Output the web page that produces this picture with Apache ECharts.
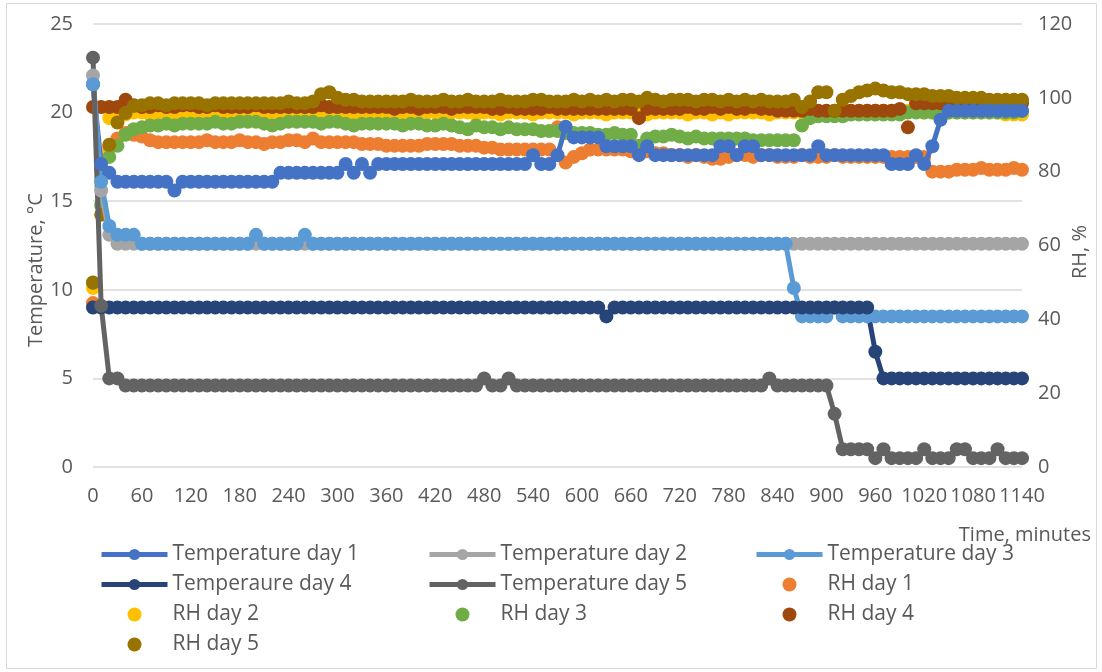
<!DOCTYPE html>
<html>
<head>
<meta charset="utf-8">
<script src="https://cdn.jsdelivr.net/npm/echarts@6/dist/echarts.min.js"></script>
<style>
  html, body { margin: 0; padding: 0; background: #fff; }
  #chart { width: 1102px; height: 672px; }
</style>
</head>
<body>
<div id="chart"></div>
<script>
// Sampling instants, minutes (every 10 min)
const minutes = [
  0, 10, 20, 30, 40, 50, 60, 70, 80, 90, 100, 110,
  120, 130, 140, 150, 160, 170, 180, 190, 200, 210, 220, 230,
  240, 250, 260, 270, 280, 290, 300, 310, 320, 330, 340, 350,
  360, 370, 380, 390, 400, 410, 420, 430, 440, 450, 460, 470,
  480, 490, 500, 510, 520, 530, 540, 550, 560, 570, 580, 590,
  600, 610, 620, 630, 640, 650, 660, 670, 680, 690, 700, 710,
  720, 730, 740, 750, 760, 770, 780, 790, 800, 810, 820, 830,
  840, 850, 860, 870, 880, 890, 900, 910, 920, 930, 940, 950,
  960, 970, 980, 990, 1000, 1010, 1020, 1030, 1040, 1050, 1060, 1070,
  1080, 1090, 1100, 1110, 1120, 1130, 1140
];

// Temperature, °C (left axis)
const tempDay1 = [
  21.6, 17.1, 16.6, 16.1, 16.1, 16.1,
  16.1, 16.1, 16.1, 16.1, 15.6, 16.1,
  16.1, 16.1, 16.1, 16.1, 16.1, 16.1,
  16.1, 16.1, 16.1, 16.1, 16.1, 16.6,
  16.6, 16.6, 16.6, 16.6, 16.6, 16.6,
  16.6, 17.1, 16.6, 17.1, 16.6, 17.1,
  17.1, 17.1, 17.1, 17.1, 17.1, 17.1,
  17.1, 17.1, 17.1, 17.1, 17.1, 17.1,
  17.1, 17.1, 17.1, 17.1, 17.1, 17.1,
  17.6, 17.1, 17.1, 17.6, 19.2, 18.6,
  18.6, 18.6, 18.6, 18.1, 18.1, 18.1,
  18.1, 17.6, 18.1, 17.6, 17.6, 17.6,
  17.6, 17.6, 17.6, 17.6, 17.6, 18.1,
  18.1, 17.6, 18.1, 18.1, 17.6, 17.6,
  17.6, 17.6, 17.6, 17.6, 17.6, 18.1,
  17.6, 17.6, 17.6, 17.6, 17.6, 17.6,
  17.6, 17.6, 17.1, 17.1, 17.1, 17.6,
  17.1, 18.1, 19.6, 20.1, 20.1, 20.1,
  20.1, 20.1, 20.1, 20.1, 20.1, 20.1,
  20.1
];
const tempDay2 = [
  22.1, 15.6, 13.1, 12.6, 12.6, 12.6,
  12.6, 12.6, 12.6, 12.6, 12.6, 12.6,
  12.6, 12.6, 12.6, 12.6, 12.6, 12.6,
  12.6, 12.6, 12.6, 12.6, 12.6, 12.6,
  12.6, 12.6, 12.6, 12.6, 12.6, 12.6,
  12.6, 12.6, 12.6, 12.6, 12.6, 12.6,
  12.6, 12.6, 12.6, 12.6, 12.6, 12.6,
  12.6, 12.6, 12.6, 12.6, 12.6, 12.6,
  12.6, 12.6, 12.6, 12.6, 12.6, 12.6,
  12.6, 12.6, 12.6, 12.6, 12.6, 12.6,
  12.6, 12.6, 12.6, 12.6, 12.6, 12.6,
  12.6, 12.6, 12.6, 12.6, 12.6, 12.6,
  12.6, 12.6, 12.6, 12.6, 12.6, 12.6,
  12.6, 12.6, 12.6, 12.6, 12.6, 12.6,
  12.6, 12.6, 12.6, 12.6, 12.6, 12.6,
  12.6, 12.6, 12.6, 12.6, 12.6, 12.6,
  12.6, 12.6, 12.6, 12.6, 12.6, 12.6,
  12.6, 12.6, 12.6, 12.6, 12.6, 12.6,
  12.6, 12.6, 12.6, 12.6, 12.6, 12.6,
  12.6
];
const tempDay3 = [
  21.6, 16.1, 13.6, 13.1, 13.1, 13.1,
  12.6, 12.6, 12.6, 12.6, 12.6, 12.6,
  12.6, 12.6, 12.6, 12.6, 12.6, 12.6,
  12.6, 12.6, 13.1, 12.6, 12.6, 12.6,
  12.6, 12.6, 13.1, 12.6, 12.6, 12.6,
  12.6, 12.6, 12.6, 12.6, 12.6, 12.6,
  12.6, 12.6, 12.6, 12.6, 12.6, 12.6,
  12.6, 12.6, 12.6, 12.6, 12.6, 12.6,
  12.6, 12.6, 12.6, 12.6, 12.6, 12.6,
  12.6, 12.6, 12.6, 12.6, 12.6, 12.6,
  12.6, 12.6, 12.6, 12.6, 12.6, 12.6,
  12.6, 12.6, 12.6, 12.6, 12.6, 12.6,
  12.6, 12.6, 12.6, 12.6, 12.6, 12.6,
  12.6, 12.6, 12.6, 12.6, 12.6, 12.6,
  12.6, 12.6, 10.1, 8.5, 8.5, 8.5,
  8.5, 9.0, 8.5, 8.5, 8.5, 8.5,
  8.5, 8.5, 8.5, 8.5, 8.5, 8.5,
  8.5, 8.5, 8.5, 8.5, 8.5, 8.5,
  8.5, 8.5, 8.5, 8.5, 8.5, 8.5,
  8.5
];
const tempDay4 = [
  9.0, 9.0, 9.0, 9.0, 9.0, 9.0,
  9.0, 9.0, 9.0, 9.0, 9.0, 9.0,
  9.0, 9.0, 9.0, 9.0, 9.0, 9.0,
  9.0, 9.0, 9.0, 9.0, 9.0, 9.0,
  9.0, 9.0, 9.0, 9.0, 9.0, 9.0,
  9.0, 9.0, 9.0, 9.0, 9.0, 9.0,
  9.0, 9.0, 9.0, 9.0, 9.0, 9.0,
  9.0, 9.0, 9.0, 9.0, 9.0, 9.0,
  9.0, 9.0, 9.0, 9.0, 9.0, 9.0,
  9.0, 9.0, 9.0, 9.0, 9.0, 9.0,
  9.0, 9.0, 9.0, 8.5, 9.0, 9.0,
  9.0, 9.0, 9.0, 9.0, 9.0, 9.0,
  9.0, 9.0, 9.0, 9.0, 9.0, 9.0,
  9.0, 9.0, 9.0, 9.0, 9.0, 9.0,
  9.0, 9.0, 9.0, 9.0, 9.0, 9.0,
  9.0, 9.0, 9.0, 9.0, 9.0, 9.0,
  6.5, 5.0, 5.0, 5.0, 5.0, 5.0,
  5.0, 5.0, 5.0, 5.0, 5.0, 5.0,
  5.0, 5.0, 5.0, 5.0, 5.0, 5.0,
  5.0
];
const tempDay5 = [
  23.1, 9.1, 5.0, 5.0, 4.6, 4.6,
  4.6, 4.6, 4.6, 4.6, 4.6, 4.6,
  4.6, 4.6, 4.6, 4.6, 4.6, 4.6,
  4.6, 4.6, 4.6, 4.6, 4.6, 4.6,
  4.6, 4.6, 4.6, 4.6, 4.6, 4.6,
  4.6, 4.6, 4.6, 4.6, 4.6, 4.6,
  4.6, 4.6, 4.6, 4.6, 4.6, 4.6,
  4.6, 4.6, 4.6, 4.6, 4.6, 4.6,
  5.0, 4.6, 4.6, 5.0, 4.6, 4.6,
  4.6, 4.6, 4.6, 4.6, 4.6, 4.6,
  4.6, 4.6, 4.6, 4.6, 4.6, 4.6,
  4.6, 4.6, 4.6, 4.6, 4.6, 4.6,
  4.6, 4.6, 4.6, 4.6, 4.6, 4.6,
  4.6, 4.6, 4.6, 4.6, 4.6, 5.0,
  4.6, 4.6, 4.6, 4.6, 4.6, 4.6,
  4.6, 3.0, 1.0, 1.0, 1.0, 1.0,
  0.5, 1.0, 0.5, 0.5, 0.5, 0.5,
  1.0, 0.5, 0.5, 0.5, 1.0, 1.0,
  0.5, 0.5, 0.5, 1.0, 0.5, 0.5,
  0.5
];

// Relative humidity, % (right axis)
const rhDay1 = [
  44.4, 80.5, 86.5, 89.0, 90.5, 90.0,
  89.5, 88.5, 88.0, 88.0, 88.0, 88.0,
  88.0, 88.0, 88.5, 88.0, 88.0, 88.0,
  88.5, 88.0, 88.0, 87.5, 88.0, 88.0,
  88.5, 88.5, 88.0, 89.0, 88.0, 88.0,
  88.0, 88.0, 88.0, 87.5, 87.5, 87.5,
  87.0, 87.0, 87.0, 87.0, 87.0, 87.5,
  87.5, 87.5, 87.5, 87.0, 87.0, 87.0,
  86.5, 86.5, 86.0, 86.0, 86.0, 86.0,
  86.0, 86.0, 86.0, 92.0, 82.5, 84.0,
  85.0, 86.0, 86.0, 86.0, 86.0, 86.0,
  85.5, 85.5, 85.5, 85.0, 85.0, 84.5,
  84.5, 84.0, 84.5, 84.0, 83.5, 83.5,
  84.0, 84.5, 84.5, 84.0, 84.5, 84.5,
  84.0, 84.0, 84.0, 84.5, 84.0, 84.0,
  84.0, 84.5, 84.0, 84.0, 84.0, 84.0,
  84.0, 84.0, 84.0, 84.0, 84.0, 84.0,
  84.0, 80.0, 80.0, 80.0, 80.5, 80.5,
  80.5, 81.0, 80.5, 80.5, 80.5, 81.0,
  80.5
];
const rhDay2 = [
  48.5, 84.0, 94.5, 95.5, 95.5, 96.0,
  96.0, 95.5, 96.0, 96.0, 95.5, 96.0,
  96.0, 96.0, 95.5, 96.0, 96.0, 96.0,
  96.0, 95.5, 96.0, 96.0, 96.0, 95.5,
  96.0, 96.0, 96.0, 95.5, 96.0, 96.0,
  96.0, 96.0, 95.5, 95.5, 96.0, 96.0,
  95.5, 96.0, 96.0, 95.5, 96.0, 96.0,
  96.0, 95.5, 96.0, 96.0, 96.0, 95.5,
  96.0, 96.0, 95.5, 96.0, 96.0, 96.0,
  95.5, 96.0, 96.0, 96.0, 96.0, 95.5,
  96.0, 96.0, 96.0, 95.5, 96.0, 96.0,
  96.0, 96.0, 95.5, 96.0, 96.0, 96.0,
  96.0, 95.5, 96.0, 96.0, 95.5, 96.0,
  95.5, 96.0, 96.0, 96.0, 96.0, 95.5,
  96.0, 96.0, 96.0, 96.0, 96.0, 96.0,
  96.0, 96.0, 96.0, 96.5, 96.5, 96.5,
  96.5, 96.5, 96.5, 96.5, 96.5, 96.5,
  96.0, 96.0, 96.0, 96.0, 96.0, 96.0,
  96.0, 96.0, 96.0, 96.0, 95.5, 95.5,
  95.5
];
const rhDay3 = [
  50.0, 71.0, 84.0, 87.0, 90.0, 91.5,
  92.0, 92.5, 92.5, 93.0, 92.5, 93.0,
  93.0, 93.0, 93.0, 93.5, 93.0, 93.0,
  93.5, 93.5, 93.5, 93.0, 92.5, 93.0,
  93.5, 93.5, 93.5, 93.5, 93.0, 93.5,
  93.5, 93.0, 92.5, 93.0, 93.0, 93.0,
  93.0, 93.0, 92.5, 93.0, 93.0, 92.5,
  92.5, 93.0, 92.5, 92.0, 91.5, 92.5,
  92.0, 92.0, 91.5, 92.0, 91.5, 91.5,
  91.5, 91.0, 91.0, 91.0, 90.5, 90.5,
  90.5, 90.5, 90.0, 90.0, 90.5, 90.0,
  90.0, 87.0, 89.0, 89.5, 89.5, 90.0,
  89.5, 89.0, 89.5, 89.0, 89.0, 89.0,
  89.0, 89.0, 89.0, 88.5, 88.5, 88.5,
  88.5, 88.5, 88.5, 92.5, 94.5, 95.0,
  95.0, 95.0, 95.0, 95.5, 95.5, 95.5,
  95.5, 95.5, 95.5, 95.5, 96.0, 96.0,
  96.0, 96.0, 96.0, 96.0, 96.0, 96.0,
  96.0, 96.0, 96.0, 96.0, 96.0, 96.0,
  96.5
];
const rhDay4 = [
  97.5, 97.5, 97.5, 97.5, 99.5, 98.0,
  97.5, 97.5, 98.0, 97.5, 97.5, 98.0,
  98.0, 97.5, 97.5, 98.0, 97.5, 97.5,
  97.5, 97.5, 98.0, 97.5, 97.5, 97.5,
  97.5, 97.5, 97.5, 97.5, 98.0, 97.5,
  97.5, 97.5, 97.5, 97.5, 97.5, 97.5,
  97.5, 97.0, 97.5, 97.5, 97.0, 97.5,
  97.5, 97.5, 97.0, 97.5, 97.5, 97.5,
  97.5, 97.0, 97.0, 97.5, 97.0, 97.0,
  97.0, 97.0, 97.5, 97.0, 97.0, 97.0,
  97.0, 97.0, 97.0, 97.0, 97.0, 97.0,
  97.0, 94.5, 97.0, 97.0, 97.0, 97.0,
  97.0, 97.5, 97.0, 97.0, 97.5, 97.0,
  97.5, 97.0, 97.0, 97.5, 97.0, 97.0,
  96.5, 96.5, 96.5, 96.5, 97.0, 96.5,
  96.5, 96.5, 96.5, 96.5, 96.5, 96.5,
  96.5, 96.5, 96.5, 97.0, 92.0, 98.5,
  98.5, 98.5, 98.5, 98.5, 98.5, 98.5,
  98.5, 98.5, 98.5, 98.5, 98.5, 98.5,
  98.5
];
const rhDay5 = [
  49.9, 68.3, 87.3, 93.3, 95.9, 97.8,
  98.0, 98.5, 98.5, 98.0, 98.5, 98.5,
  98.5, 98.5, 98.0, 98.5, 98.5, 98.5,
  98.5, 98.5, 98.5, 98.5, 98.5, 98.5,
  99.0, 98.5, 98.5, 99.0, 101.0, 101.5,
  100.0, 99.5, 99.5, 99.0, 99.0, 99.0,
  99.0, 99.0, 99.0, 99.5, 99.0, 99.0,
  99.0, 99.5, 99.0, 99.0, 99.5, 99.0,
  99.0, 99.0, 99.5, 99.0, 99.0, 99.0,
  99.5, 99.5, 99.0, 99.0, 99.0, 99.5,
  99.0, 99.5, 99.0, 99.5, 99.0, 99.5,
  99.5, 99.0, 100.0, 99.5, 99.0, 99.5,
  99.5, 99.5, 99.0, 99.5, 99.5, 99.0,
  99.5, 99.0, 99.5, 99.0, 99.5, 99.0,
  99.0, 99.0, 99.5, 97.5, 99.0, 101.5,
  101.5, 96.5, 99.5, 100.5, 101.5, 102.0,
  102.5, 102.0, 101.5, 101.5, 101.0, 101.0,
  101.0, 100.5, 100.5, 100.5, 100.0, 100.0,
  100.0, 100.0, 99.5, 99.5, 99.5, 99.5,
  99.5
];

// Axis ticks
const tempTicks = { min: 0, max: 25, step: 5 };
const rhTicks = { min: 0, max: 120, step: 20 };
const timeTicks = { min: 0, max: 1140, step: 60 };

const FONT = '"Open Sans", "Liberation Sans", sans-serif';
const TEXT = '#595959';
const MARK = 14;

function pairs(values) {
  return minutes.map((m, i) => [m, values[i]]);
}

function lineSeries(name, values, color) {
  return {
    name, type: 'line', yAxisIndex: 0, data: pairs(values),
    symbol: 'circle', symbolSize: MARK, showAllSymbol: true, clip: false,
    lineStyle: { color, width: 5 },
    itemStyle: { color, borderWidth: 0 },
    emphasis: { disabled: true },
    animation: false
  };
}

function dotSeries(name, values, color) {
  return {
    name, type: 'scatter', yAxisIndex: 1, data: pairs(values),
    symbol: 'circle', symbolSize: MARK, clip: false,
    itemStyle: { color, opacity: 1 },
    emphasis: { disabled: true },
    animation: false
  };
}

const series = [
  lineSeries('Temperature day 1', tempDay1, '#4472C4'),
  lineSeries('Temperature day 2', tempDay2, '#A5A5A5'),
  lineSeries('Temperature day 3', tempDay3, '#5B9BD5'),
  lineSeries('Temperaure day 4', tempDay4, '#264478'),
  lineSeries('Temperature day 5', tempDay5, '#636363'),
  dotSeries('RH day 1', rhDay1, '#ED7D31'),
  dotSeries('RH day 2', rhDay2, '#FFC000'),
  dotSeries('RH day 3', rhDay3, '#70AD47'),
  dotSeries('RH day 4', rhDay4, '#9E480E'),
  dotSeries('RH day 5', rhDay5, '#997300')
];

function legendColumn(left, names) {
  return {
    orient: 'vertical', left, top: 539,
    itemWidth: 66, itemHeight: 14, itemGap: 9,
    selectedMode: false,
    lineStyle: { width: 5 },
    textStyle: { fontFamily: FONT, fontSize: 21, color: TEXT, lineHeight: 21 },
    data: names
  };
}

const chart = echarts.init(document.getElementById('chart'), null, { renderer: 'canvas' });
chart.setOption({
  backgroundColor: '#fff',
  animation: false,
  textStyle: { fontFamily: FONT },
  grid: { left: 93, right: 80, top: 24, bottom: 205, containLabel: false },
  xAxis: {
    type: 'value', min: timeTicks.min, max: timeTicks.max, interval: timeTicks.step,
    axisLine: { show: false }, axisTick: { show: false }, splitLine: { show: false },
    axisLabel: {
      fontFamily: FONT, fontSize: 20, color: TEXT, margin: 19,
      formatter: (v) => String(v)
    }
  },
  yAxis: [
    {
      type: 'value', min: tempTicks.min, max: tempTicks.max, interval: tempTicks.step,
      axisLine: { show: false }, axisTick: { show: false },
      splitLine: { lineStyle: { color: '#D9D9D9', width: 1.5 } },
      axisLabel: { fontFamily: FONT, fontSize: 20, color: TEXT, margin: 20 }
    },
    {
      type: 'value', min: rhTicks.min, max: rhTicks.max, interval: rhTicks.step,
      position: 'right',
      axisLine: { show: false }, axisTick: { show: false }, splitLine: { show: false },
      axisLabel: { fontFamily: FONT, fontSize: 20, color: TEXT, margin: 16 }
    }
  ],
  legend: [
    legendColumn(94, ['Temperature day 1', 'Temperaure day 4', 'RH day 2', 'RH day 5']),
    legendColumn(422, ['Temperature day 2', 'Temperature day 5', 'RH day 3']),
    legendColumn(749, ['Temperature day 3', 'RH day 1', 'RH day 4'])
  ],
  graphic: [
    {
      type: 'rect', silent: true, z: -10,
      shape: { x: 6.5, y: 3.5, width: 1090, height: 665 },
      style: { fill: 'none', stroke: '#D9D9D9', lineWidth: 1 }
    },
    {
      type: 'text', x: 36, y: 270, rotation: Math.PI / 2,
      style: { text: 'Temperature, °C', font: '20px ' + FONT, fill: TEXT, align: 'center', verticalAlign: 'middle' }
    },
    {
      type: 'text', x: 1080, y: 252, rotation: Math.PI / 2,
      style: { text: 'RH, %', font: '20px ' + FONT, fill: TEXT, align: 'center', verticalAlign: 'middle' }
    },
    {
      type: 'text', x: 1091, y: 535,
      style: { text: 'Time, minutes', font: '20px ' + FONT, fill: TEXT, align: 'right', verticalAlign: 'middle' }
    }
  ],
  series
});
</script>
</body>
</html>
